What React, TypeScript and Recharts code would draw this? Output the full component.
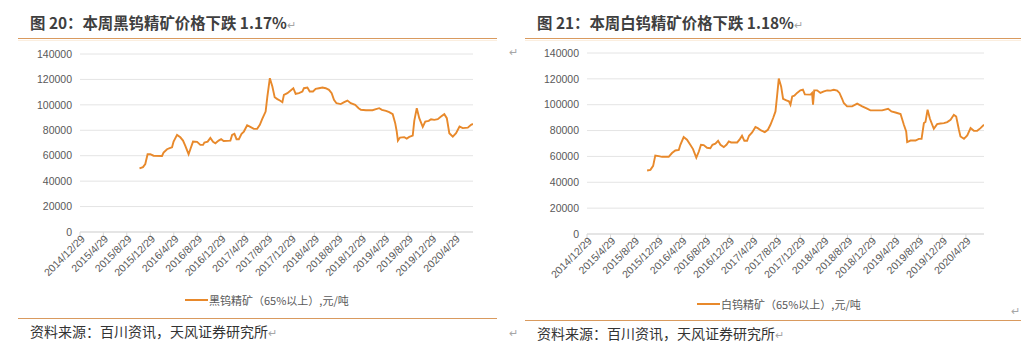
import React from 'react';
import { LineChart, Line, XAxis, YAxis, CartesianGrid } from 'recharts';

const tickLabels = [
  '2014/12/29', '2015/4/29', '2015/8/29', '2015/12/29', '2016/4/29', '2016/8/29',
  '2016/12/29', '2017/4/29', '2017/8/29', '2017/12/29', '2018/4/29', '2018/8/29',
  '2018/12/29', '2019/4/29', '2019/8/29', '2019/12/29', '2020/4/29',
];
const yTicks = [0, 20000, 40000, 60000, 80000, 100000, 120000, 140000];

const blackDates = [
  '2015/11/3', '2015/11/21', '2015/12/3', '2015/12/15', '2015/12/29', '2016/1/15', '2016/2/28', '2016/3/7',
  '2016/3/25', '2016/4/11', '2016/4/20', '2016/4/28', '2016/5/16', '2016/6/2', '2016/6/16', '2016/6/28',
  '2016/7/15', '2016/7/24', '2016/8/7', '2016/8/28', '2016/9/14', '2016/9/28', '2016/10/5', '2016/10/22',
  '2016/11/5', '2016/11/19', '2016/12/1', '2016/12/18', '2016/12/31', '2017/1/13', '2017/2/17', '2017/2/26',
  '2017/3/10', '2017/3/21', '2017/4/2', '2017/4/16', '2017/4/28', '2017/5/15', '2017/5/29', '2017/6/19',
  '2017/7/6', '2017/7/20', '2017/8/1', '2017/8/19', '2017/8/28', '2017/9/10', '2017/9/23', '2017/10/5',
  '2017/10/19', '2017/11/1', '2017/11/14', '2017/11/22', '2017/12/10', '2017/12/27', '2018/1/10', '2018/1/22',
  '2018/2/8', '2018/2/26', '2018/3/6', '2018/3/24', '2018/4/5', '2018/4/22', '2018/5/6', '2018/5/23',
  '2018/6/10', '2018/6/27', '2018/7/14', '2018/7/28', '2018/8/9', '2018/8/22', '2018/9/13', '2018/10/1',
  '2018/10/18', '2018/11/4', '2018/11/27', '2018/12/15', '2018/12/27', '2019/1/22', '2019/2/25', '2019/3/15',
  '2019/4/1', '2019/4/15', '2019/5/6', '2019/5/23', '2019/6/10', '2019/6/23', '2019/7/1', '2019/7/7',
  '2019/7/18', '2019/8/9', '2019/8/22', '2019/9/4', '2019/9/22', '2019/9/30', '2019/10/13', '2019/10/26',
  '2019/11/13', '2019/11/26', '2019/12/14', '2019/12/26', '2020/1/12', '2020/1/30', '2020/2/16', '2020/3/4',
  '2020/3/17', '2020/3/30', '2020/4/17', '2020/5/4', '2020/5/22', '2020/6/8', '2020/7/4', '2020/7/21',
  '2020/7/31',
];
const blackValues = [
  50000, 51000, 53500, 61200, 61200, 60000, 59800, 62400,
  65100, 66100, 66600, 71100, 76400, 74500, 71900, 67700,
  61200, 65100, 71100, 70900, 68500, 68500, 70300, 71100,
  74000, 70900, 69800, 71900, 73000, 71600, 71900, 76400,
  77200, 73000, 73000, 77200, 79000, 84000, 82900, 81100,
  81100, 84300, 88700, 94700, 106500, 121000, 114400, 106000,
  104500, 103400, 102100, 107900, 109200, 111300, 113100, 108700,
  109200, 110500, 113100, 113600, 110500, 110500, 112600, 113100,
  113600, 113100, 111800, 109200, 103900, 101300, 100600, 102100,
  103400, 101300, 100000, 97400, 96100, 95800, 95800, 96600,
  97400, 96100, 95300, 94300, 92700, 85600, 79000, 71900,
  74300, 74600, 73500, 74800, 75800, 87400, 97400, 89500,
  82700, 86900, 87400, 88700, 88200, 88700, 90800, 92700,
  89500, 77700, 75000, 77700, 82900, 81700, 82100, 84300,
  85000,
];

const whiteDates = [
  '2015/11/3', '2015/11/20', '2015/12/4', '2015/12/15', '2016/1/2', '2016/1/19', '2016/2/22', '2016/3/10',
  '2016/3/27', '2016/4/14', '2016/4/22', '2016/5/9', '2016/5/26', '2016/6/12', '2016/6/26', '2016/7/13',
  '2016/7/26', '2016/8/6', '2016/8/20', '2016/9/6', '2016/9/23', '2016/10/4', '2016/10/19', '2016/11/2',
  '2016/11/14', '2016/12/1', '2016/12/15', '2016/12/27', '2017/1/8', '2017/2/8', '2017/2/22', '2017/3/5',
  '2017/3/17', '2017/3/31', '2017/4/10', '2017/4/26', '2017/5/13', '2017/5/25', '2017/6/11', '2017/6/30',
  '2017/7/16', '2017/7/29', '2017/8/12', '2017/8/24', '2017/9/1', '2017/9/10', '2017/9/22', '2017/10/2',
  '2017/10/19', '2017/11/1', '2017/11/9', '2017/11/18', '2017/11/29', '2017/12/13', '2017/12/30', '2018/1/12',
  '2018/1/22', '2018/2/20', '2018/2/28', '2018/3/5', '2018/3/11', '2018/3/26', '2018/4/12', '2018/4/30',
  '2018/5/17', '2018/6/3', '2018/6/20', '2018/7/7', '2018/7/19', '2018/8/2', '2018/8/10', '2018/8/27',
  '2018/9/22', '2018/10/18', '2018/11/13', '2018/12/8', '2018/12/25', '2019/1/20', '2019/2/23', '2019/3/26',
  '2019/4/12', '2019/5/3', '2019/5/29', '2019/6/15', '2019/6/27', '2019/7/2', '2019/7/19', '2019/8/14',
  '2019/8/31', '2019/9/14', '2019/9/26', '2019/10/4', '2019/10/15', '2019/10/27', '2019/11/16', '2019/12/3',
  '2019/12/20', '2020/1/7', '2020/1/24', '2020/2/10', '2020/2/27', '2020/3/10', '2020/3/24', '2020/4/1',
  '2020/4/19', '2020/5/6', '2020/5/23', '2020/6/9', '2020/6/26', '2020/7/13', '2020/7/31',
];
const whiteValues = [
  49100, 49600, 52700, 60700, 60200, 59700, 59700, 62600,
  64600, 65100, 69000, 75000, 72900, 69000, 65700, 59100,
  63800, 69000, 68800, 66700, 66400, 69000, 69800, 72100,
  69000, 67200, 69000, 71600, 70800, 70800, 73400, 76000,
  72100, 72100, 76000, 78500, 82700, 81900, 80100, 78800,
  80600, 84500, 89700, 94800, 106400, 120200, 114200, 104600,
  103300, 102600, 100000, 106400, 107000, 109100, 111100, 111600,
  108000, 107800, 109100, 100000, 111100, 111100, 109100, 110300,
  111100, 110900, 111600, 110900, 109100, 104400, 101300, 98700,
  98700, 100800, 98700, 96900, 95600, 95600, 95600, 96900,
  94800, 94000, 92800, 84500, 79300, 71100, 72300, 72300,
  73600, 73600, 85800, 86600, 96100, 89100, 81400, 85000,
  85500, 85800, 86600, 88400, 92200, 90900, 80600, 75400,
  73600, 76200, 81900, 79800, 79800, 81900, 84500,
];

const toTs = (s: string) => {
  const [y, m, d] = s.split('/').map(Number);
  return Date.UTC(y, m - 1, d);
};
const fmt = (t: number) => {
  const dt = new Date(t);
  return `${dt.getUTCFullYear()}/${dt.getUTCMonth() + 1}/${dt.getUTCDate()}`;
};

const blackData = blackDates.map((d, i) => ({ t: toTs(d), v: blackValues[i] }));
const whiteData = whiteDates.map((d, i) => ({ t: toTs(d), v: whiteValues[i] }));
const xTicks = tickLabels.map(toTs);

const LINE = '#E8892B';
const RULE = '#D99A5E';
const AXIS_TEXT = '#595959';
const FONT = "'Liberation Sans', 'Noto Sans CJK SC', sans-serif";
const CJK = "'Noto Sans CJK SC', 'Liberation Sans', sans-serif";

const DateTick = (props: any) => {
  const { x, y, payload } = props;
  return (
    <text
      x={x + 3}
      y={y - 1}
      transform={`rotate(-45 ${x + 3} ${y - 1})`}
      textAnchor="end"
      fill={AXIS_TEXT}
      fontSize={10.5}
      fontFamily={FONT}
      dy="0.35em"
    >
      {fmt(payload.value)}
    </text>
  );
};

const Chart = ({ data, mr, mt, mb }: { data: { t: number; v: number }[]; mr: number; mt: number; mb: number }) => (
  <LineChart width={500} height={280} data={data} margin={{ top: mt, right: mr, bottom: mb, left: 20 }}>
    <CartesianGrid vertical={false} stroke="#E4E4E4" />
    <XAxis
      dataKey="t"
      type="number"
      domain={[xTicks[0], 'dataMax']}
      ticks={xTicks}
      interval={0}
      tick={<DateTick />}
      tickLine={{ stroke: '#D9D9D9' }}
      axisLine={{ stroke: '#D9D9D9' }}
      tickSize={4}
      tickMargin={2}
      height={70}
      allowDataOverflow
    />
    <YAxis
      domain={[0, 140000]}
      ticks={yTicks}
      interval={0}
      axisLine={false}
      tickLine={false}
      width={60}
      tick={{ fill: AXIS_TEXT, fontSize: 10.5, fontFamily: FONT }}
    />
    <Line
      type="linear"
      dataKey="v"
      stroke={LINE}
      strokeWidth={1.9}
      dot={false}
      isAnimationActive={false}
    />
  </LineChart>
);

const abs = (left: number, top: number, extra: React.CSSProperties = {}): React.CSSProperties => ({
  position: 'absolute',
  left,
  top,
  ...extra,
});

const Mark = ({ left, top }: { left: number; top: number }) => (
  <div style={abs(left, top, { fontSize: 11, color: '#A6A6A6', fontFamily: FONT, lineHeight: '12px' })}>↵</div>
);

const Panel = ({
  x, title, legend, data, mr, mt, mb, ruleW, ruleBottomY, legendY, legendX, sourceY,
}: {
  x: number; title: string; legend: string; data: { t: number; v: number }[];
  mr: number; mt: number; mb: number; ruleW: number; ruleBottomY: number; legendY: number; legendX: number; sourceY: number;
}) => (
  <>
    <div
      style={abs(x + 12, 12, {
        fontFamily: CJK, fontWeight: 700, fontSize: 15.4, color: '#3F3F3F', lineHeight: '20px', whiteSpace: 'nowrap',
      })}
    >
      {title}
      <span style={{ fontWeight: 400, fontSize: 11, color: '#A6A6A6' }}>↵</span>
    </div>
    <div style={abs(x, 38, { width: ruleW, height: 0, borderTop: `1.5px solid ${RULE}` })} />
    <div style={abs(x, 40, { width: ruleW, height: 0, borderTop: '1px solid #FBEEDF' })} />
    <div style={abs(x - 18, 40)}>
      <Chart data={data} mr={mr} mt={mt} mb={mb} />
    </div>
    <div style={abs(legendX, legendY - 8, { display: 'flex', alignItems: 'center', height: 16, whiteSpace: 'nowrap' })}>
      <div style={{ width: 23, height: 2, background: LINE }} />
      <span style={{ fontFamily: CJK, fontSize: 11, color: AXIS_TEXT, marginLeft: 1 }}>{legend}</span>
    </div>
    <div style={abs(x, ruleBottomY, { width: ruleW, height: 0, borderTop: `1.5px solid ${RULE}` })} />
    <div
      style={abs(x + 12, sourceY - 10, {
        fontFamily: CJK, fontSize: 14, color: '#333333', lineHeight: '20px', whiteSpace: 'nowrap',
      })}
    >
      资料来源：百川资讯，天风证券研究所
      <span style={{ fontSize: 11, color: '#A6A6A6' }}>↵</span>
    </div>
  </>
);

export default function App() {
  return (
    <div
      style={{
        position: 'fixed', left: 0, top: 0, width: 1029, height: 353, background: '#FFFFFF', overflow: 'hidden',
      }}
    >
      <Panel
        x={18}
        title="图 20：本周黑钨精矿价格下跌 1.17%"
        legend="黑钨精矿（65%以上）,元/吨"
        data={blackData}
        mr={27}
        mt={14}
        mb={18}
        ruleW={479}
        ruleBottomY={318}
        legendY={300}
        legendX={185}
        sourceY={331}
      />
      <Panel
        x={525}
        title="图 21：本周白钨精矿价格下跌 1.18%"
        legend="白钨精矿（65%以上）,元/吨"
        data={whiteData}
        mr={23}
        mt={13}
        mb={16}
        ruleW={496}
        ruleBottomY={320}
        legendY={304}
        legendX={697}
        sourceY={333}
      />
      <Mark left={509} top={46} />
      <Mark left={1011} top={305} />
      <Mark left={509} top={327} />
    </div>
  );
}
